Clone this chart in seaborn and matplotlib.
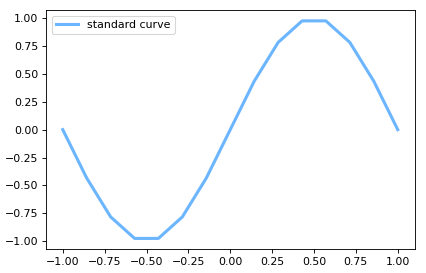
import matplotlib
matplotlib.use("Agg")
import matplotlib.pyplot as plt
import seaborn as sns
import pandas as pd

x_vals = [-1.0, -0.857, -0.714, -0.571, -0.429, -0.286, -0.143, 0.0,
          0.143, 0.286, 0.429, 0.571, 0.714, 0.857, 1.0]
y_vals = [0.0, -0.434, -0.782, -0.975, -0.975, -0.782, -0.434, 0.0,
          0.434, 0.782, 0.975, 0.975, 0.782, 0.434, 0.0]
series_label = "standard curve"

df = pd.DataFrame({"x": x_vals, "y": y_vals})

W, H = 426, 273
DPI = 79.2
fig = plt.figure(figsize=(W/DPI, H/DPI), dpi=DPI)
ax = fig.add_axes([46/W, (H-249.3)/H, 368.5/W, 239.3/H])
sns.lineplot(data=df, x="x", y="y", ax=ax, color="#6cb6ff", linewidth=2.8,
             label=series_label)
ax.set_xlabel("")
ax.set_ylabel("")
ax.set_xticks([-1.0, -0.75, -0.5, -0.25, 0.0, 0.25, 0.5, 0.75, 1.0])
ax.set_yticks([-1.0, -0.75, -0.5, -0.25, 0.0, 0.25, 0.5, 0.75, 1.0])
ax.legend(loc="upper left")
fig.savefig("out.png", dpi=DPI)
